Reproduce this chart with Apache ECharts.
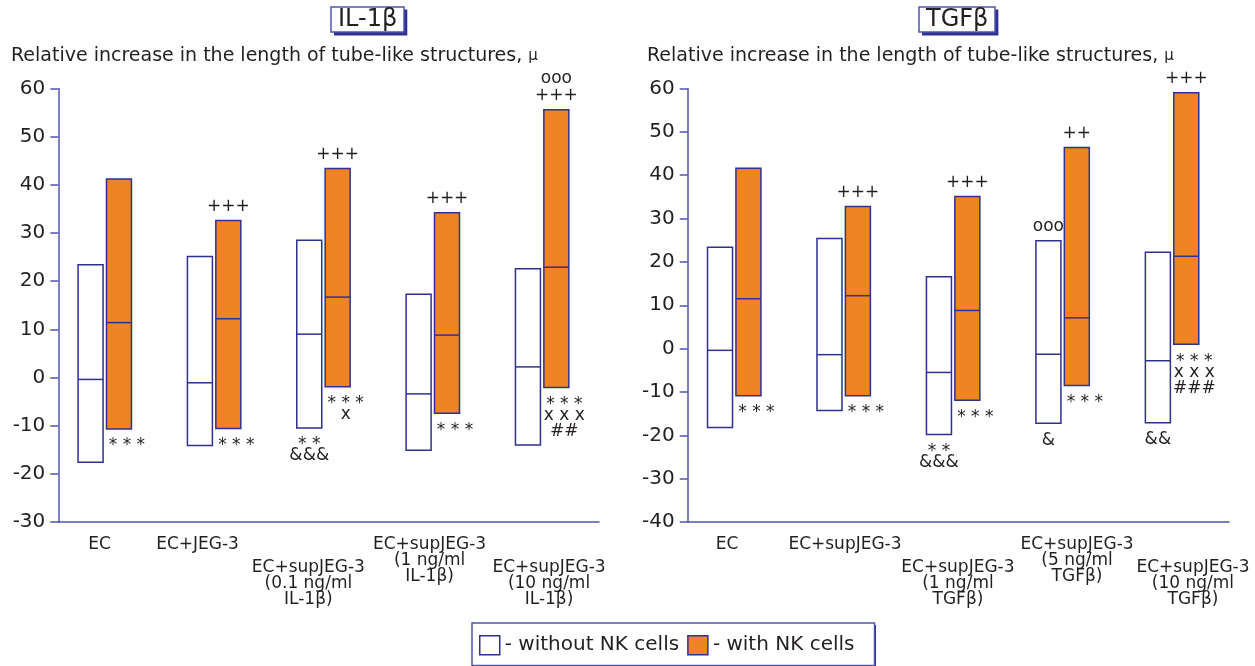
<!DOCTYPE html>
<html><head><meta charset="utf-8">
<script src="https://cdn.jsdelivr.net/npm/echarts@6/dist/echarts.min.js"></script>
<style>html,body{margin:0;padding:0;background:#fff}#c{width:1255px;height:666px}</style>
</head><body><div id="c"></div>
<script>
// ---------- data ----------
const catsL = ['EC', 'EC+JEG-3', 'EC+supJEG-3\n(0.1 ng/ml\nIL-1β)', 'EC+supJEG-3\n(1 ng/ml\nIL-1β)', 'EC+supJEG-3\n(10 ng/ml\nIL-1β)'];
const catsR = ['EC', 'EC+supJEG-3', 'EC+supJEG-3\n(1 ng/ml\nTGFβ)', 'EC+supJEG-3\n(5 ng/ml\nTGFβ)', 'EC+supJEG-3\n(10 ng/ml\nTGFβ)'];
// each entry: [min, median, max]
const withoutNK_L = [[-17.6, -0.4, 23.4], [-14.1, -1.1, 25.1], [-10.5, 9.0, 28.5], [-15.1, -3.4, 17.3], [-14.0, 2.2, 22.6]];
const withNK_L    = [[-10.7, 11.4, 41.2], [-10.6, 12.2, 32.6], [-1.9, 16.7, 43.4], [-7.4, 8.8, 34.2], [-2.1, 22.9, 55.6]];
const withoutNK_R = [[-18.2, -0.4, 23.4], [-14.3, -1.4, 25.4], [-19.8, -5.5, 16.6], [-17.2, -1.3, 24.9], [-17.1, -2.8, 22.2]];
const withNK_R    = [[-10.9, 11.5, 41.6], [-10.9, 12.2, 32.8], [-11.9, 8.8, 35.1], [-8.5, 7.1, 46.4], [1.0, 21.3, 59.0]];
const yAxisL = [-30, 60, 10];
const yAxisR = [-40, 60, 10];
// significance marks
const aboveWith_L    = ['', '+++', '+++', '+++', 'ooo\n+++'];
const belowWith_L    = ['* * *', '* * *', '* * *\nx', '* * *', '* * *\nx x x\n##'];
const aboveWithout_L = ['', '', '', '', ''];
const belowWithout_L = ['', '', '* *\n&&&', '', ''];
const aboveWith_R    = ['', '+++', '+++', '++', '+++'];
const belowWith_R    = ['* * *', '* * *', '* * *', '* * *', '* * *\nx x x\n###'];
const aboveWithout_R = ['', '', '', 'ooo', ''];
const belowWithout_R = ['', '', '* *\n&&&', '&', '&&'];
const titleL = 'IL-1β';
const titleR = 'TGFβ';
const yName = 'Relative increase in the length of tube-like structures, ';
const yUnit = 'μ';
const nameWithout = 'without NK cells';
const nameWith = 'with NK cells';

// ---------- styles ----------
const F = '"DejaVu Sans", sans-serif';
const STROKE = '#2e3192';
const AX = '#5054ad';
const ORANGE = '#f08423';
const TXT = '#231f20';
const CLEAR = 'rgba(0,0,0,0)';
const W = 25, GAP = 3.4;
const labelShiftL = [-12.9, -23, -20.3, -7.2, 4.1];
const labelShiftR = [-14.8, -5.1, -0.4, 10.4, 18.1];
const labelRow = [0, 0, 1, 0, 1];

function makeSeries(name, data, gi, side, above, below, fill) {
  return {
    type: 'custom', name, xAxisIndex: gi * 2, yAxisIndex: gi,
    itemStyle: { color: fill, borderColor: STROKE },
    data: data.map((d, i) => [i, d[0], d[1], d[2]]),
    encode: { x: 0, y: [1, 2, 3] },
    renderItem: (params, api) => {
      const i = api.value(0);
      const lo = api.coord([i, api.value(1)]);
      const md = api.coord([i, api.value(2)]);
      const hi = api.coord([i, api.value(3)]);
      const cx = lo[0];
      const x0 = side === 'L' ? cx - GAP / 2 - W : cx + GAP / 2;
      const children = [
        { type: 'rect', shape: { x: x0, y: hi[1], width: W, height: lo[1] - hi[1] },
          style: { fill: fill, stroke: STROKE, lineWidth: 1.5 } },
        { type: 'line', shape: { x1: x0, y1: md[1], x2: x0 + W, y2: md[1] },
          style: { stroke: STROKE, lineWidth: 1.5 } }
      ];
      const mkText = (t, x, y) => ({ type: 'text', style: { text: t, x: x, y: y, align: 'center', verticalAlign: 'middle',
        fill: TXT, fontSize: 17, fontFamily: F } });
      const bc = x0 + W / 2;
      const a = above[i] ? above[i].split('\n') : [];
      a.forEach((t, k) => children.push(mkText(t, bc, hi[1] - 14 - (a.length - 1 - k) * 17)));
      const b = below[i] ? below[i].split('\n') : [];
      let y = lo[1] + 17;
      const bx = side === 'R' ? bc + 8 : bc;
      b.forEach(t => { children.push(mkText(t, bx, y)); y += (t.indexOf('*') >= 0 ? 11 : 16); });
      return { type: 'group', children };
    }
  };
}

function catAxis(gi, cats, shifts) {
  const rich = { sp: { height: 23, lineHeight: 23, fontSize: 10 } };
  shifts.forEach((s, i) => {
    rich['s' + i] = { fontSize: 17, lineHeight: 16, fontFamily: F, color: TXT,
      padding: s > 0 ? [0, 0, 0, 2 * s] : [0, -2 * s, 0, 0] };
  });
  return {
    type: 'category', gridIndex: gi, position: 'bottom', data: cats,
    axisLine: { show: false }, axisTick: { show: false }, splitLine: { show: false },
    axisLabel: {
      interval: 0, margin: 15, fontFamily: F, fontSize: 17, color: TXT, rich,
      formatter: (val, idx) => (labelRow[idx] ? '{sp| }\n' : '') +
        val.split('\n').map(ln => '{s' + idx + '|' + ln + '}').join('\n')
    }
  };
}
function valXAxis(gi) {
  return { type: 'value', gridIndex: gi, min: -0.425, max: 4.52,
    axisLine: { onZero: false, lineStyle: { color: AX, width: 1.5 } }, axisTick: { show: false },
    axisLabel: { show: false }, splitLine: { show: false } };
}
function valYAxis(gi, r) {
  return { type: 'value', gridIndex: gi, min: r[0], max: r[1], interval: r[2],
    axisLine: { show: true, onZero: false, lineStyle: { color: AX, width: 1.5 } },
    axisTick: { show: true, length: 8, lineStyle: { color: AX, width: 1.5 } },
    axisLabel: { fontFamily: F, fontSize: 20, color: TXT, margin: 13 },
    splitLine: { show: false } };
}
const boxTitle = (text, left, shadow) => ({
  text, left: left + (shadow ? 3 : 0), top: 8 + (shadow ? 3 : 0), padding: [1, 7, 1, 7],
  backgroundColor: shadow ? STROKE : '#fff', borderColor: AX, borderWidth: shadow ? 0 : 1.5,
  textStyle: { fontFamily: F, fontSize: 24, fontWeight: 'normal', color: shadow ? CLEAR : TXT, lineHeight: 21 }
});
const subTitle = (left) => ({
  text: yName + '{m|' + yUnit + '}', left, top: 47, padding: 0,
  textStyle: { fontFamily: F, fontSize: 19, fontWeight: 'normal', color: TXT,
    rich: { m: { fontFamily: F, fontSize: 15, color: TXT } } }
});
const legendBox = (shadow) => ({
  left: 472 + (shadow ? 3 : 0), top: 623 + (shadow ? 2 : 0), padding: [12, 20, 10, 7],
  itemWidth: 20, itemHeight: 19, itemGap: 8,
  selectedMode: false, formatter: '- {name}',
  textStyle: { fontFamily: F, fontSize: 20, color: shadow ? CLEAR : TXT },
  backgroundColor: shadow ? STROKE : '#fff', borderColor: AX, borderWidth: shadow ? 0 : 1.5,
  data: [
    { name: nameWithout, icon: 'rect', itemStyle: shadow ? { color: CLEAR, borderWidth: 0, opacity: 0 } : { color: '#fff', borderColor: STROKE, borderWidth: 1.5 } },
    { name: nameWith, icon: 'rect', itemStyle: shadow ? { color: CLEAR, borderWidth: 0, opacity: 0 } : { color: ORANGE, borderColor: STROKE, borderWidth: 1.5 } }
  ]
});

const chart = echarts.init(document.getElementById('c'), null, { renderer: 'canvas' });
chart.setOption({
  animation: false,
  backgroundColor: '#fff',
  title: [boxTitle(titleL, 331, true), boxTitle(titleL, 331, false), boxTitle(titleR, 919, true), boxTitle(titleR, 919, false), subTitle(11), subTitle(647)],
  grid: [
    { left: 58.3, right: 656, top: 88.5, bottom: 144 },
    { left: 687.7, right: 26, top: 88.5, bottom: 144 }
  ],
  xAxis: [valXAxis(0), catAxis(0, catsL, labelShiftL), valXAxis(1), catAxis(1, catsR, labelShiftR)],
  yAxis: [valYAxis(0, yAxisL), valYAxis(1, yAxisR)],
  legend: [legendBox(true), legendBox(false)],
  series: [
    makeSeries(nameWithout, withoutNK_L, 0, 'L', aboveWithout_L, belowWithout_L, '#fff'),
    makeSeries(nameWith, withNK_L, 0, 'R', aboveWith_L, belowWith_L, ORANGE),
    makeSeries(nameWithout, withoutNK_R, 1, 'L', aboveWithout_R, belowWithout_R, '#fff'),
    makeSeries(nameWith, withNK_R, 1, 'R', aboveWith_R, belowWith_R, ORANGE)
  ]
});
</script></body></html>
